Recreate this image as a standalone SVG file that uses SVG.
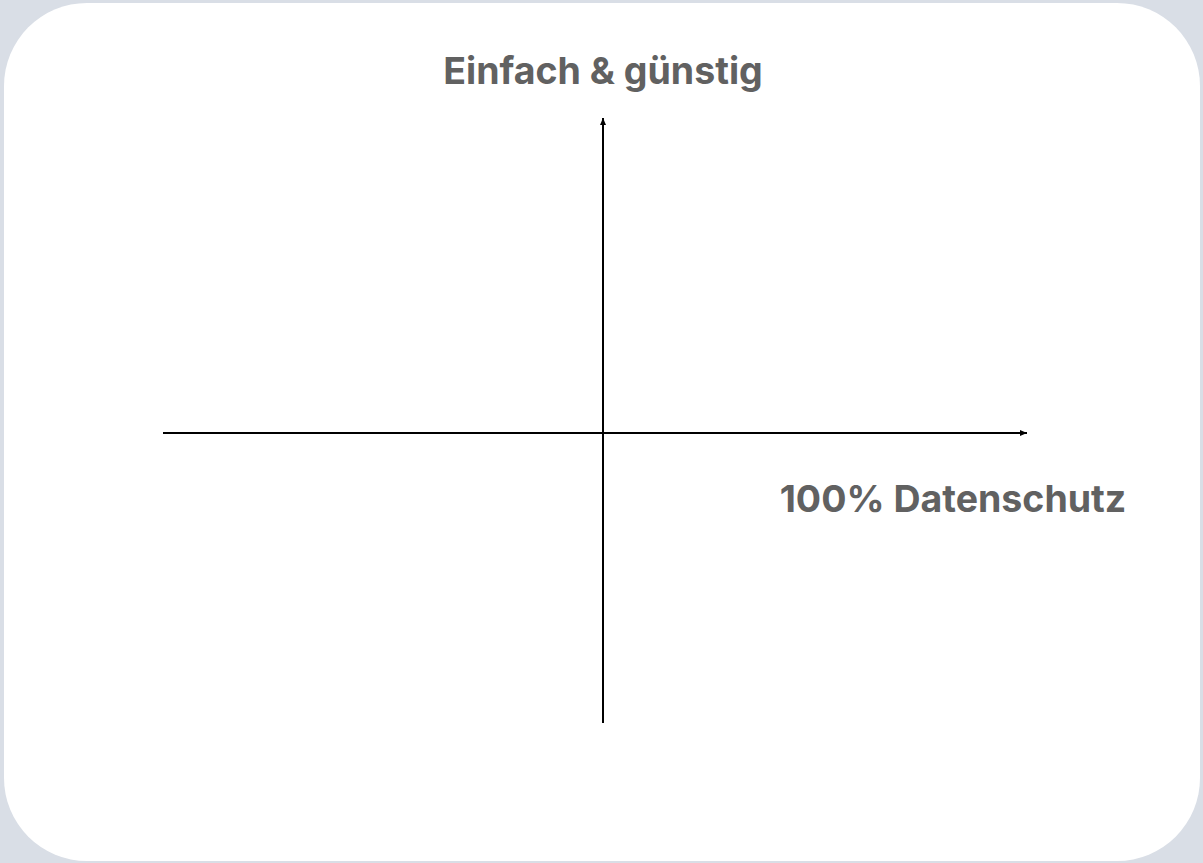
<svg xmlns="http://www.w3.org/2000/svg" width="1203" height="863" viewBox="0 0 1203 863">
<style>
.lbl{font-family:Inter,"Liberation Sans",sans-serif;font-weight:700;font-size:37.5px;fill:#616161}
.ax{stroke:#000;stroke-width:2;fill:none}
</style>
<defs>
<marker id="arr" markerWidth="8" markerHeight="8" refX="7" refY="4" orient="auto" markerUnits="userSpaceOnUse">
<path d="M0,1 L7,4 L0,7 Z" fill="#000"/>
</marker>
</defs>
<rect width="1203" height="863" fill="#d9dee6"/>
<rect x="4" y="3" width="1196" height="858" rx="83" ry="83" fill="#fff"/>
<g id="connectors">
<line class="ax" x1="163" y1="433" x2="1027" y2="433" marker-end="url(#arr)"/>
<line class="ax" x1="603" y1="723" x2="603" y2="118" marker-end="url(#arr)"/>
</g>
<g id="label-y"><text class="lbl" x="603" y="84" text-anchor="middle">Einfach &amp; günstig</text></g>
<g id="label-x"><text class="lbl" x="953" y="512" text-anchor="middle">100% Datenschutz</text></g>
</svg>
